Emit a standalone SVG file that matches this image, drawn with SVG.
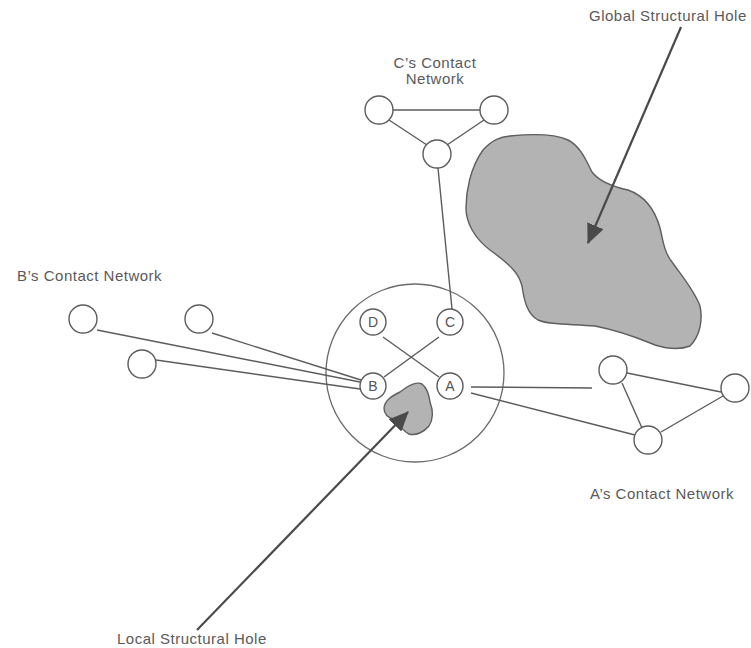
<svg xmlns="http://www.w3.org/2000/svg" width="751" height="648" viewBox="0 0 751 648">
  <style>
    .edge { stroke: #5c5c5c; stroke-width: 1.4; fill: none; }
    .node { fill: #ffffff; stroke: #5c5c5c; stroke-width: 1.4; }
    .ring { fill: none; stroke: #6a6a6a; stroke-width: 1.3; }
    .hole { fill: #b3b3b3; stroke: #5e5e5e; stroke-width: 1.4; }
    .pointer { stroke: #4a4a4a; stroke-width: 2.2; fill: none; }
    .label { font-family: "Liberation Sans", Arial, sans-serif; font-size: 15px; letter-spacing: 0.5px; fill: #5a5a5a; }
    .letter { font-family: "Liberation Sans", Arial, sans-serif; font-size: 14px; fill: #555555; text-anchor: middle; }
  </style>
  <defs>
    <marker id="head" markerWidth="9" markerHeight="8" refX="8.5" refY="4" orient="auto" markerUnits="strokeWidth">
      <path d="M0,0 L9,4 L0,8 Z" fill="#4a4a4a"/>
    </marker>
  </defs>

  <rect width="751" height="648" fill="#ffffff"/>

  <!-- ego neighbourhood boundary -->
  <circle class="ring" cx="415" cy="373" r="89"/>

  <!-- structural holes -->
  <g id="global-hole">
    <path class="hole" d="M510,136 C530,134 555,134 568,140 C580,146 586,160 592,172 C598,180 610,186 628,190 C645,196 655,210 660,228 C663,240 664,252 672,262 C682,276 694,290 700,306 C703,320 700,336 690,346 C680,350 668,349 655,345 C640,339 625,332 595,326 C570,324 548,325 538,320 C527,314 524,300 522,286 C519,274 512,266 490,250 C474,238 466,222 466,208 C466,192 470,168 483,150 C492,140 500,137 510,136 Z"/>
  </g>
  <g id="local-hole">
    <path class="hole" d="M407,387 C412,384 418,382 422,384 C427,388 429,394 430,402 C433,410 434,418 429,426 C424,432 416,436 409,434 C404,432 400,426 395,420 C388,418 384,414 384,408 C385,400 392,396 400,392 Z"/>
  </g>

  <!-- connectors -->
  <g id="connectors">
    <!-- inside the ego network -->
    <line class="edge" x1="383" y1="337" x2="439" y2="377"/>
    <line class="edge" x1="439" y1="337" x2="384" y2="377"/>
    <!-- C to its contacts -->
    <line class="edge" x1="452" y1="309" x2="438" y2="168"/>
    <line class="edge" x1="393" y1="110" x2="480" y2="110"/>
    <line class="edge" x1="389" y1="120" x2="427" y2="145"/>
    <line class="edge" x1="484" y1="120" x2="447" y2="145"/>
    <!-- B to its contacts -->
    <line class="edge" x1="97" y1="330" x2="360" y2="382"/>
    <line class="edge" x1="212" y1="333" x2="361" y2="380"/>
    <line class="edge" x1="156" y1="360" x2="360" y2="389"/>
    <!-- A to its contacts -->
    <line class="edge" x1="471" y1="387" x2="592" y2="388"/>
    <line class="edge" x1="471" y1="393" x2="635" y2="435"/>
    <line class="edge" x1="627" y1="373" x2="721" y2="392"/>
    <line class="edge" x1="622" y1="383" x2="642" y2="428"/>
    <line class="edge" x1="661" y1="432" x2="723" y2="396"/>
    <!-- pointers to the holes -->
    <line class="pointer" x1="681" y1="27" x2="588" y2="243" marker-end="url(#head)"/>
    <line class="pointer" x1="197" y1="630" x2="408" y2="412" marker-end="url(#head)"/>
  </g>

  <!-- ego contacts -->
  <g id="node-D"><circle class="node" cx="373" cy="322" r="13"/><text class="letter" x="373" y="327">D</text></g>
  <g id="node-C"><circle class="node" cx="450" cy="322" r="13"/><text class="letter" x="450" y="327">C</text></g>
  <g id="node-B"><circle class="node" cx="373" cy="386" r="13"/><text class="letter" x="373" y="391">B</text></g>
  <g id="node-A"><circle class="node" cx="450" cy="386" r="13"/><text class="letter" x="450" y="391">A</text></g>

  <!-- C's contact network -->
  <g id="c-net-1"><circle class="node" cx="379" cy="110" r="14"/></g>
  <g id="c-net-2"><circle class="node" cx="494" cy="110" r="14"/></g>
  <g id="c-net-3"><circle class="node" cx="437" cy="154" r="14"/></g>

  <!-- B's contact network -->
  <g id="b-net-1"><circle class="node" cx="83" cy="319" r="14"/></g>
  <g id="b-net-2"><circle class="node" cx="199" cy="319" r="14"/></g>
  <g id="b-net-3"><circle class="node" cx="142" cy="364" r="14"/></g>

  <!-- A's contact network -->
  <g id="a-net-1"><circle class="node" cx="613" cy="370" r="14"/></g>
  <g id="a-net-2"><circle class="node" cx="735" cy="388" r="14"/></g>
  <g id="a-net-3"><circle class="node" cx="648" cy="440" r="14"/></g>

  <!-- labels -->
  <g id="labels">
    <text class="label" x="589" y="21">Global Structural Hole</text>
    <text class="label" x="435" y="68" text-anchor="middle">C’s Contact</text>
    <text class="label" x="435" y="84" text-anchor="middle">Network</text>
    <text class="label" x="17" y="281">B’s Contact Network</text>
    <text class="label" x="590" y="499">A’s Contact Network</text>
    <text class="label" x="117" y="644">Local Structural Hole</text>
  </g>
</svg>
